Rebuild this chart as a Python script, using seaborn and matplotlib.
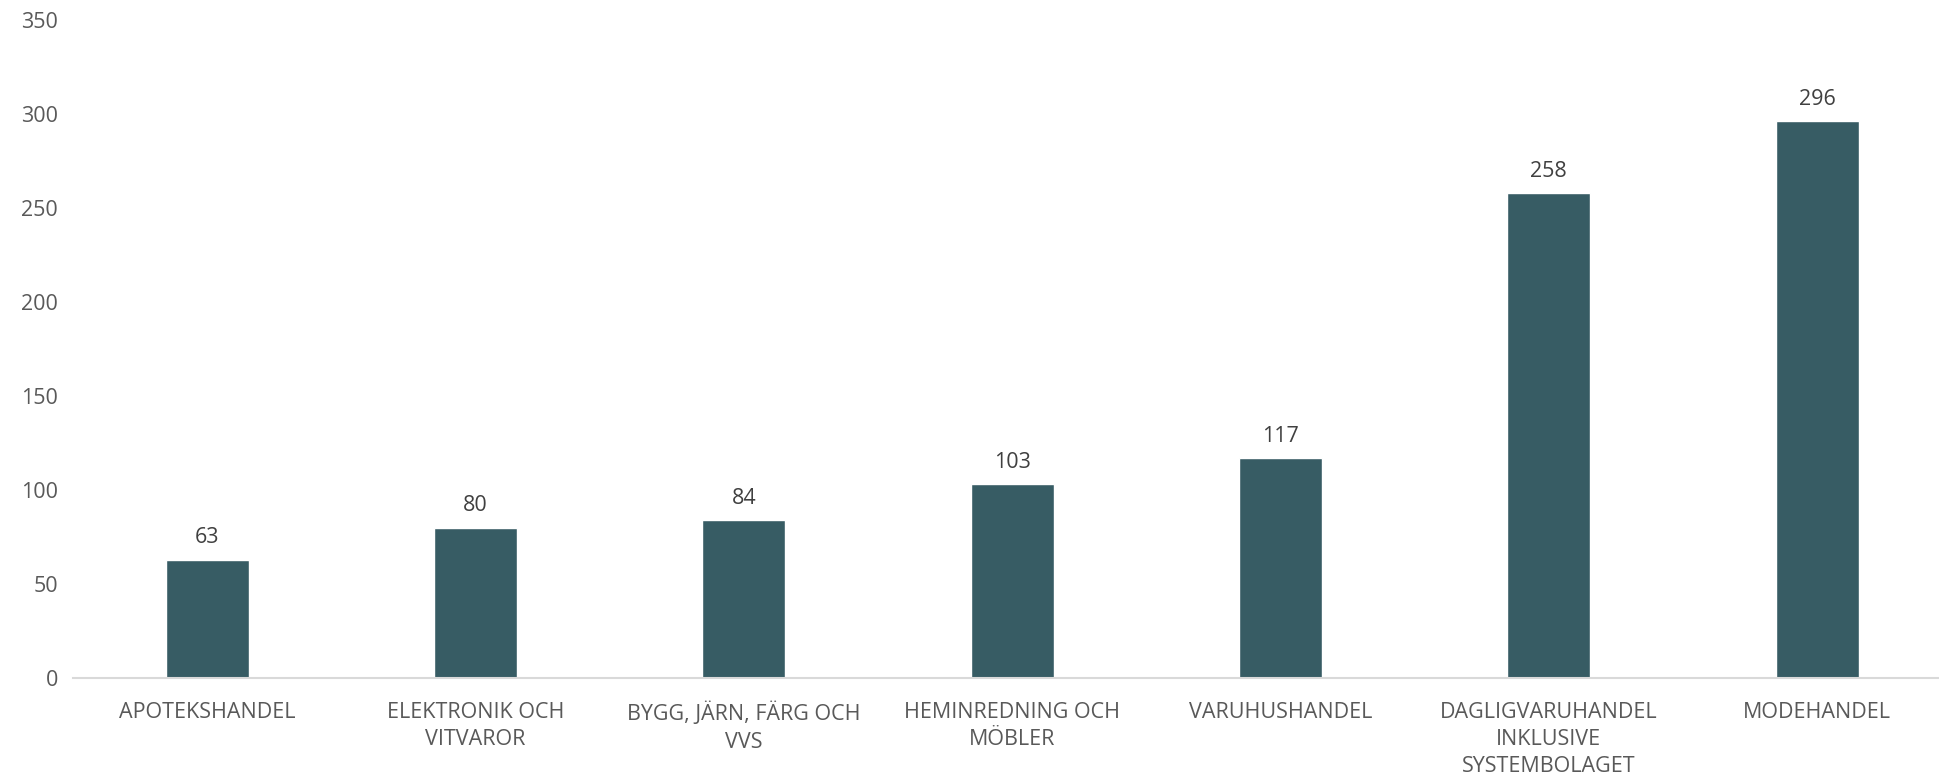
import matplotlib
matplotlib.use("Agg")
import matplotlib.pyplot as plt
import pandas as pd
import seaborn as sns

categories = ["APOTEKSHANDEL", "ELEKTRONIK OCH\nVITVAROR", "BYGG, JÄRN, FÄRG OCH\nVVS",
              "HEMINREDNING OCH\nMÖBLER", "VARUHUSHANDEL",
              "DAGLIGVARUHANDEL\nINKLUSIVE\nSYSTEMBOLAGET", "MODEHANDEL"]
values = [63, 80, 84, 103, 117, 258, 296]
yticks = [0, 50, 100, 150, 200, 250, 300, 350]

df = pd.DataFrame({"kategori": categories, "antal": values})

sns.set_theme(style="white")
plt.rcParams["font.family"] = ["Open Sans", "DejaVu Sans"]

fig = plt.figure(figsize=(19.39, 7.77), dpi=100)
ax = fig.add_axes([0.0377, 0.1274, 0.9686, 0.847])

sns.barplot(data=df, x="kategori", y="antal", color="#375C64", saturation=1,
            width=0.309, ax=ax)

for i, v in enumerate(values):
    ax.annotate(str(v), (i, v), xytext=(0, 8), textcoords="offset points",
                ha="center", va="bottom", fontsize=15.5, color="#404040")

ax.set_ylim(0, 350)
ax.set_yticks(yticks)
ax.set_xlim(-0.5, len(categories) - 0.5)
ax.set_xlabel("")
ax.set_ylabel("")
ax.tick_params(axis="y", length=0, pad=11, labelsize=15.5, labelcolor="#595959")
ax.tick_params(axis="x", length=0, pad=17, labelsize=15.5, labelcolor="#595959")
for lbl in ax.get_xticklabels():
    lbl.set_linespacing(1.4)

for side in ["top", "right", "left"]:
    ax.spines[side].set_visible(False)
ax.spines["bottom"].set_color("#D9D9D9")
ax.spines["bottom"].set_linewidth(1.5)

fig.savefig("out.png", dpi=100, facecolor="white")
